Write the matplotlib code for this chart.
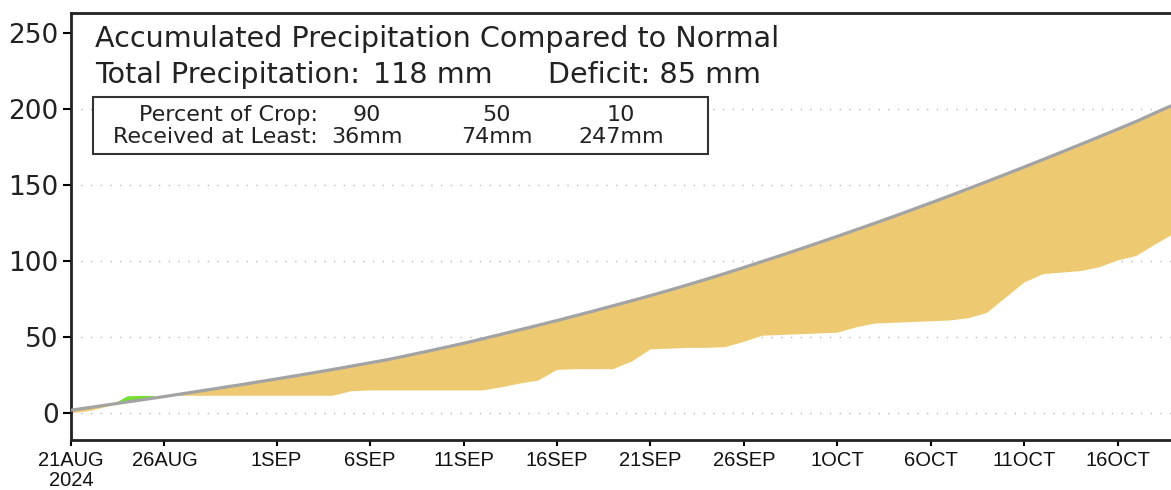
import matplotlib
matplotlib.use("Agg")
import matplotlib.pyplot as plt
from matplotlib.patches import Rectangle
import numpy as np

# days since 21AUG2024
days = list(range(60))

# normal accumulated precipitation (mm)
normal = [2.0, 3.8, 5.6, 7.4, 9.2, 11.0, 12.9, 14.8, 16.7, 18.6,
          20.6, 22.6, 24.6, 26.7, 28.8, 31.0, 33.2, 35.4, 38.0, 40.6,
          43.3, 46.0, 48.9, 51.9, 54.9, 57.9, 61.0, 64.2, 67.4, 70.7,
          74.0, 77.4, 80.9, 84.5, 88.2, 92.0, 95.9, 99.9, 103.9, 108.0,
          112.2, 116.4, 120.7, 125.0, 129.4, 133.9, 138.4, 143.0, 147.7, 152.4,
          157.2, 162.0, 166.9, 171.8, 176.8, 181.8, 186.9, 192.0, 197.6, 203.0]

# observed accumulated precipitation (mm)
actual = [0.0, 1.5, 4.5, 11.5, 11.8, 11.2, 11.5, 11.5, 11.5, 11.5,
          11.5, 11.5, 11.5, 11.5, 11.5, 14.5, 15.0, 15.0, 15.0, 15.0,
          15.0, 15.0, 15.0, 17.0, 19.5, 21.5, 28.5, 29.0, 29.0, 29.0,
          34.0, 42.0, 42.5, 43.0, 43.0, 43.5, 47.0, 51.0, 51.5, 52.0,
          52.5, 53.0, 56.5, 59.0, 59.5, 60.0, 60.5, 61.0, 62.5, 66.0,
          76.0, 86.0, 91.5, 92.5, 93.5, 96.0, 100.5, 103.5, 111.0, 118.0]

tick_days = [0, 5, 11, 16, 21, 26, 31, 36, 41, 46, 51, 56]
tick_labels = ["21AUG\n2024", "26AUG", "1SEP", "6SEP", "11SEP", "16SEP",
               "21SEP", "26SEP", "1OCT", "6OCT", "11OCT", "16OCT"]
y_ticks = [0, 50, 100, 150, 200, 250]

crop_pct = ["90", "50", "10"]
crop_mm = ["36mm", "74mm", "247mm"]

W, H = 1171, 490
fig = plt.figure(figsize=(W / 100, H / 100), dpi=100)
ax = fig.add_axes([71 / W, (H - 440) / H, (W - 71) / W, (440 - 13) / H])

x = np.array(days)
n = np.array(normal)
a = np.array(actual)

ax.fill_between(x, a, n, where=a <= n, interpolate=True, color="#edc972", lw=0, zorder=2)
ax.fill_between(x, a, n, where=a >= n, interpolate=True, color="#74e030", lw=0, zorder=2)
ax.plot(x, n, color="#a3a3a3", lw=2.3, zorder=3, solid_capstyle="butt")

for yv in y_ticks[:-1]:
    ax.axhline(yv, color="#b8b8b8", lw=1.0, ls=(0, (1, 6)), zorder=1)

ax.set_xlim(0, 58.85)
ax.set_ylim(-17.6, 263.3)
ax.set_xticks(tick_days)
ax.set_xticklabels(tick_labels, family=["Liberation Sans", "DejaVu Sans"],
                   fontsize=14.5, color="#111111", linespacing=1.05)
ax.set_yticks(y_ticks)
ax.set_yticklabels([str(v) for v in y_ticks], fontsize=19, color="#222222")
ax.tick_params(axis="y", length=6, width=1.5, pad=3)
ax.tick_params(axis="x", length=4, width=1.5, pad=4)

for s in ["left", "bottom", "top"]:
    ax.spines[s].set_linewidth(2)
    ax.spines[s].set_color("#222222")
ax.spines["right"].set_visible(False)


def fx(px):
    return px / W


def fy(py):
    return 1 - py / H


big = dict(fontsize=20.6, va="center", ha="left", color="#222222")
fig.text(fx(95), fy(39), "Accumulated Precipitation Compared to Normal", **big)
fig.text(fx(95), fy(75), "Total Precipitation:", **big)
fig.text(fx(373), fy(75), "118 mm", **big)
fig.text(fx(548), fy(75), "Deficit: 85 mm", **big)

box = Rectangle((fx(93), fy(154)), fx(708) - fx(93), fy(97) - fy(154),
                transform=fig.transFigure, facecolor="white",
                edgecolor="#333333", lw=1.5, zorder=5)
fig.patches.append(box)

fs = 16
fig.text(fx(318), fy(115), "Percent of Crop:", fontsize=fs, ha="right",
         va="center", color="#222222", zorder=6)
fig.text(fx(318), fy(137), "Received at Least:", fontsize=fs, ha="right",
         va="center", color="#222222", zorder=6)
for cx, p, m in zip([367, 497, 621], crop_pct, crop_mm):
    fig.text(fx(cx), fy(115), p, fontsize=fs, ha="center", va="center",
             color="#222222", zorder=6)
    fig.text(fx(cx), fy(137), m, fontsize=fs, ha="center", va="center",
             color="#222222", zorder=6)

fig.savefig("out.png", dpi=100)
